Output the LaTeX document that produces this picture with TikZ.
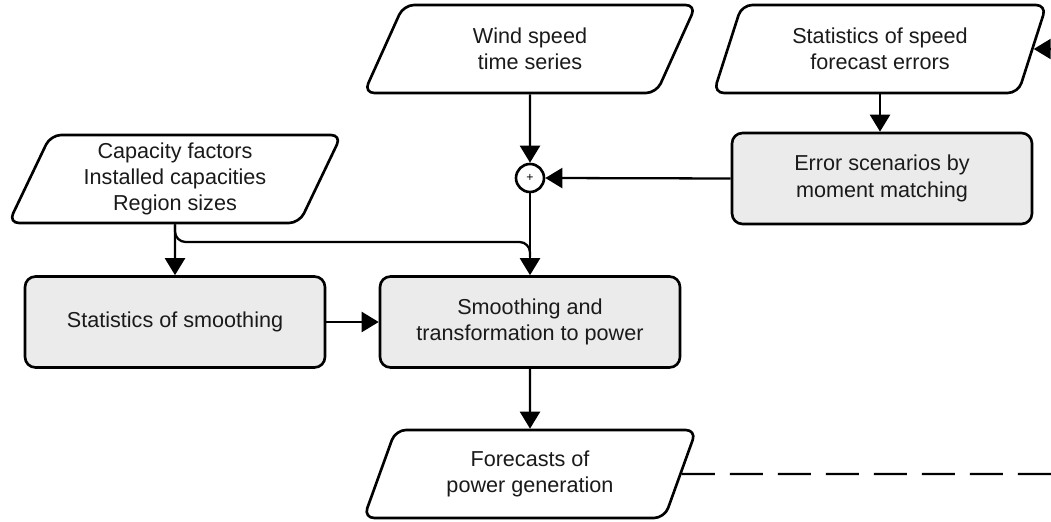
\documentclass[tikz,border=0pt]{standalone}
\usepackage{fontspec}
\setmainfont{Liberation Sans}
\usepackage{tikz}
\usetikzlibrary{shapes.geometric,arrows.meta}
\definecolor{boxgray}{HTML}{EBEBEB}
\definecolor{inkgray}{HTML}{1A1A1A}

\begin{document}
\begin{tikzpicture}[
  datashape/.style={trapezium,trapezium left angle=67,trapezium right angle=113,
    trapezium stretches=true,minimum width=6.66cm,minimum height=1.76cm,
    draw=black,line width=1.5pt,rounded corners=6pt,fill=white,align=center,
    text=inkgray,font=\fontsize{12.3}{15}\selectfont,inner sep=0pt},
  procbox/.style={rectangle,draw=black,line width=1.5pt,rounded corners=6pt,
    fill=boxgray,minimum width=6cm,minimum height=1.82cm,align=center,
    text=inkgray,font=\fontsize{12.3}{15}\selectfont},
  arr/.style={line width=1.3pt,-{Triangle[length=0.34cm,width=0.4cm]}},
  link/.style={line width=1.3pt}]
  \useasboundingbox (0,0) rectangle (21.02,10.42);

  % inputs
  \node [datashape] (wind) at (10.6,9.44) {Wind speed\\time series};
  \node [datashape] (sfe) at (17.6,9.44) {Statistics of speed\\forecast errors};
  \node [datashape] (cap) at (3.5,6.84) {Capacity factors\\Installed capacities\\Region sizes};

  % processing
  \node [procbox] (err) at (17.64,6.85) {Error scenarios by\\moment matching};
  \node [circle,draw=black,line width=1.5pt,minimum size=0.56cm,inner sep=0pt,
    font=\scriptsize,fill=white] (plus) at (10.6,6.86) {+};
  \node [procbox] (sos) at (3.5,3.98) {Statistics of smoothing};
  \node [procbox] (smt) at (10.6,3.98) {Smoothing and\\transformation to power};

  % output
  \node [datashape] (fc) at (10.6,0.94) {Forecasts of\\power generation};

  \coordinate (inR) at (21.02,9.44);
  \coordinate (jn) at (10.6,5.58);
  \coordinate (outR) at (21.02,0.94);

  \draw [arr] (inR) -- (sfe.east);
  \draw [arr] (sfe.south) -- (sfe.south |- err.north);
  \draw [arr] (wind.south) -- (plus.north);
  \draw [arr] (err.west) -- (plus.east);
  \draw [link,rounded corners=6pt] (cap.south) |- (jn) -- ++(0,-0.3);
  \draw [arr] (plus.south) -- (smt.north);
  \draw [arr] (cap.south) -- (sos.north);
  \draw [arr] (sos.east) -- (smt.west);
  \draw [arr] (smt.south) -- (fc.north);
  \draw [link,dash pattern=on 0.66cm off 0.3cm] (fc.east) -- (outR);
\end{tikzpicture}
\end{document}
